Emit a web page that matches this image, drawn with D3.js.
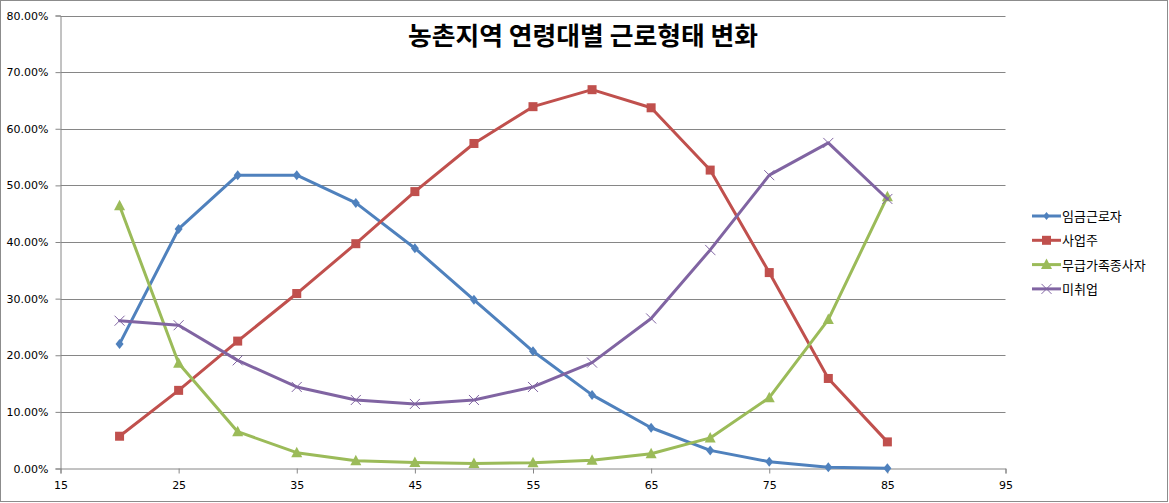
<!DOCTYPE html>
<html><head><meta charset="utf-8">
<script src="https://cdn.jsdelivr.net/npm/d3@7"></script>
<style>html,body{margin:0;padding:0;background:#fff;} svg{display:block;}</style>
</head><body>
<svg id="c" width="1169" height="503"></svg>
<script>
const ages = [20,25,30,35,40,45,50,55,60,65,70,75,80,85];
const wage = [22.0,42.3,51.8,51.8,46.9,38.9,29.8,20.7,13.0,7.2,3.2,1.2,0.2,0.05];
const owner = [5.7,13.8,22.5,30.9,39.7,48.9,57.4,63.9,66.9,63.7,52.7,34.6,15.9,4.7];
const unpaid = [46.4,18.6,6.5,2.8,1.35,1.05,0.9,1.0,1.45,2.6,5.4,12.5,26.3,48.0];
const unemployed = [26.1,25.3,19.1,14.4,12.1,11.4,12.1,14.4,18.7,26.5,38.6,51.8,57.5,47.6];
const seriesNames = ["임금근로자","사업주","무급가족종사자","미취업"];
const xTicks = [15,25,35,45,55,65,75,85,95];
const yTicks = [0,10,20,30,40,50,60,70,80];
const title = "농촌지역 연령대별 근로형태 변화";

const colors = ["#4F81BD","#C0504D","#9BBB59","#8064A2"];
const markers = ["diamond","square","triangle","x"];
const values = [wage, owner, unpaid, unemployed];

const svg = d3.select("#c");
svg.append("rect").attr("x",0.5).attr("y",0.5).attr("width",1167).attr("height",501)
  .attr("fill","#fff").attr("stroke","#8c8c8c").attr("stroke-width",1);

const x = d3.scaleLinear().domain([15,95]).range([60.5,1005.5]);
const y = d3.scaleLinear().domain([0,80]).range([468.5,15.5]);

// gridlines
svg.append("g").selectAll("line").data(yTicks.filter(d=>d>0)).join("line")
  .attr("x1",x(15)).attr("x2",x(95)).attr("y1",d=>Math.round(y(d))+0.5).attr("y2",d=>Math.round(y(d))+0.5)
  .attr("stroke","#868686").attr("stroke-width",1);

// y axis
const yAxis = d3.axisLeft(y).tickValues(yTicks).tickFormat(d=>d.toFixed(2)+"%").tickSize(5).tickPadding(7);
const gy = svg.append("g").attr("transform",`translate(${x(15)},0)`).call(yAxis);
gy.selectAll("path,line").attr("stroke","#868686");
gy.selectAll("text").attr("font-family","DejaVu Sans, Verdana, sans-serif").attr("font-size","11px").attr("fill","#000");

// x axis
const xAxis = d3.axisBottom(x).tickValues(xTicks).tickFormat(d3.format("d")).tickSize(5).tickPadding(8);
const gx = svg.append("g").attr("transform",`translate(0,${y(0)})`).call(xAxis);
gx.selectAll("path,line").attr("stroke","#868686");
gx.selectAll("text").attr("font-family","DejaVu Sans, Verdana, sans-serif").attr("font-size","11px").attr("fill","#000");

function drawMarker(g, type, color, size){
  if(type==="diamond"){
    g.append("path").attr("d",`M0,${-size}L${size*0.8},0L0,${size}L${-size*0.8},0Z`).attr("fill",color);
  } else if(type==="square"){
    g.append("rect").attr("x",-4.5).attr("y",-4.5).attr("width",9).attr("height",9).attr("fill",color);
  } else if(type==="triangle"){
    g.append("path").attr("d","M0,-6L5.5,4.5L-5.5,4.5Z").attr("fill",color);
  } else {
    g.append("path").attr("d","M-5,-5L5,5M-5,5L5,-5").attr("stroke",color).attr("stroke-width",1).attr("fill","none");
  }
}

const line = d3.line().x((d,i)=>x(ages[i])).y(d=>y(d));
values.forEach((vals,si)=>{
  const g = svg.append("g");
  g.append("path").datum(vals).attr("d",line).attr("fill","none")
    .attr("stroke",colors[si]).attr("stroke-width",3).attr("stroke-linejoin","round").attr("stroke-linecap","round");
  vals.forEach((v,i)=>{
    const mg = g.append("g").attr("transform",`translate(${x(ages[i])},${y(v)})`);
    drawMarker(mg, markers[si], colors[si], 5);
  });
});

// title
svg.append("text").attr("x",583).attr("y",45).attr("text-anchor","middle")
  .attr("font-family","'Noto Sans CJK KR', sans-serif").attr("font-weight","bold").attr("font-size","25px")
  .attr("textLength",350).attr("lengthAdjust","spacingAndGlyphs").attr("fill","#000").text(title);

// legend
const leg = svg.append("g");
seriesNames.forEach((n,i)=>{
  const ly = 216 + i*24.3;
  const g = leg.append("g").attr("transform",`translate(0,${ly})`);
  g.append("line").attr("x1",1032).attr("x2",1061).attr("y1",0).attr("y2",0).attr("stroke",colors[i]).attr("stroke-width",3);
  const mg = g.append("g").attr("transform","translate(1046.5,0)");
  drawMarker(mg, markers[i], colors[i], 4);
  g.append("text").attr("x",1062).attr("y",5).attr("font-family","'Noto Sans CJK KR', sans-serif")
    .attr("font-size","13px").attr("fill","#000").text(n);
});
</script>
</body></html>
